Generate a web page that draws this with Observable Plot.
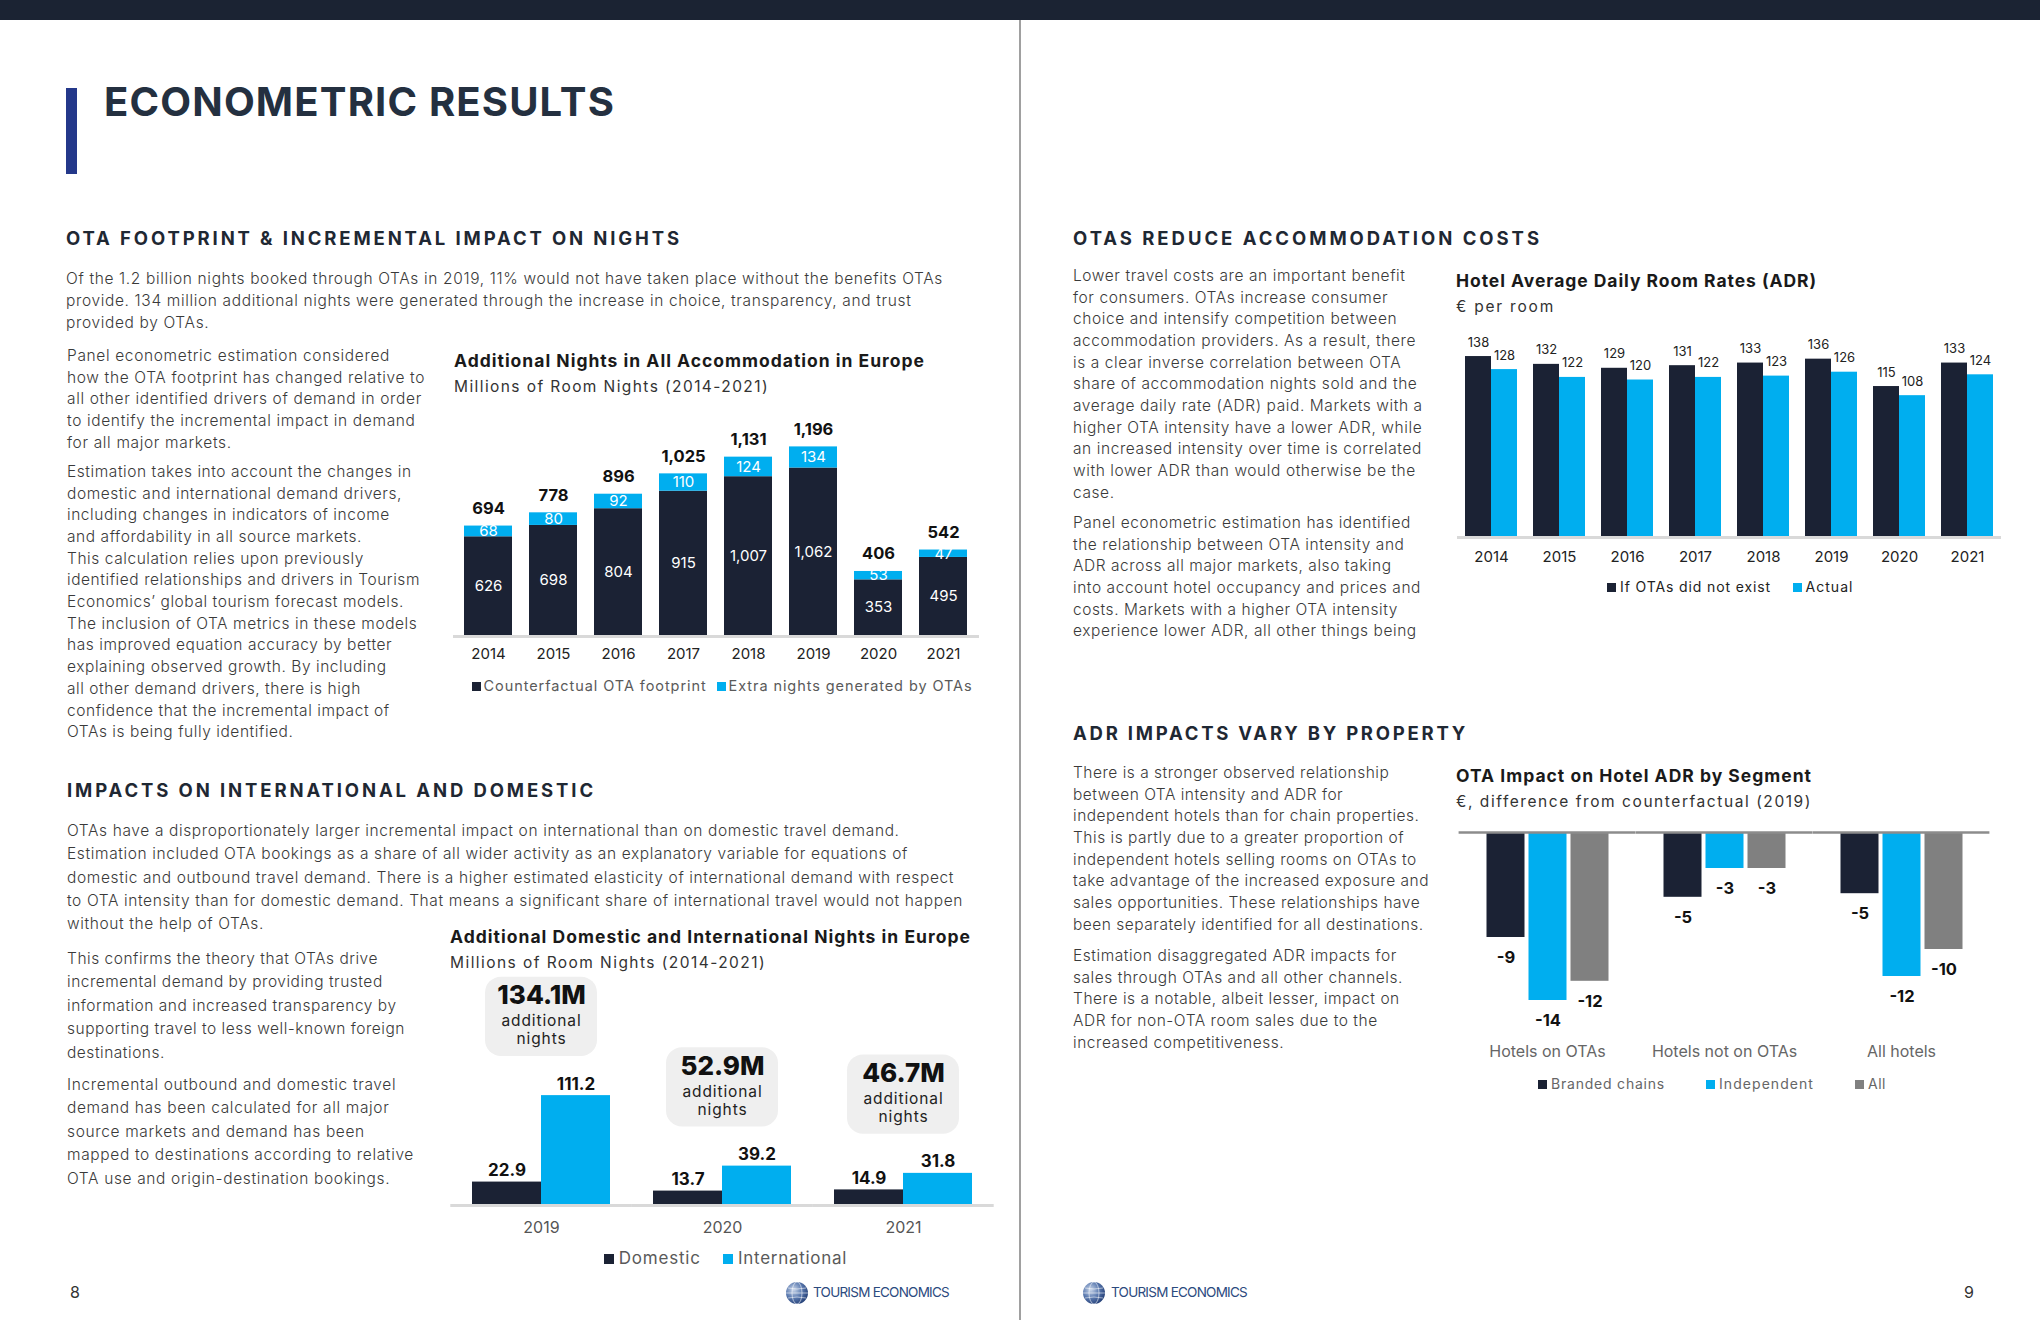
<!DOCTYPE html>
<html><head><meta charset="utf-8">
<script src="https://cdn.jsdelivr.net/npm/d3@7"></script>
<script src="https://cdn.jsdelivr.net/npm/@observablehq/plot@0.6"></script>
<style>
html,body{margin:0;padding:0;background:#fff;}
body{width:2040px;height:1320px;position:relative;overflow:hidden;font-family:Inter,"Open Sans",sans-serif;color:#333;}
.abs{position:absolute;white-space:nowrap;}
.fit{display:inline-block;}
.p{position:absolute;font-weight:300;font-size:15.5px;color:#3a3a3a;}
.p div{white-space:nowrap;}
.h{position:absolute;white-space:nowrap;font-weight:700;font-size:18.5px;line-height:18.5px;color:#1f2833;}
.ct{position:absolute;white-space:nowrap;font-weight:700;font-size:17.5px;line-height:17.5px;color:#1a1a1a;}
.cs{position:absolute;white-space:nowrap;font-weight:400;font-size:15.5px;line-height:15.5px;color:#333;}
.sq{position:absolute;width:9px;height:9px;}
.lg{position:absolute;white-space:nowrap;}
.chart{position:absolute;}
</style></head><body>
<div class="abs" style="left:0;top:0;width:2040px;height:20px;background:#1b2333"></div>
<div class="abs" style="left:1019px;top:20px;width:1.5px;height:1300px;background:#a0a0a0"></div>
<div class="abs" style="left:66px;top:88px;width:11px;height:86px;background:#24388a"></div>
<div class="abs fit" data-w="511" style="left:104px;top:82.4px;font-size:40px;line-height:40px;font-weight:700;color:#243040">ECONOMETRIC RESULTS</div>

<div class="h fit" data-w="616" style="left:66px;top:229px">OTA FOOTPRINT &amp; INCREMENTAL IMPACT ON NIGHTS</div>
<div class="h fit" data-w="529" style="left:67px;top:781px">IMPACTS ON INTERNATIONAL AND DOMESTIC</div>
<div class="h fit" data-w="469" style="left:1073px;top:229px">OTAS REDUCE ACCOMMODATION COSTS</div>
<div class="h fit" data-w="395" style="left:1073px;top:724px">ADR IMPACTS VARY BY PROPERTY</div>

<div class="p" data-ref="0" data-w="877" style="left:66px;top:267.6px;line-height:22px">
<div>Of the 1.2 billion nights booked through OTAs in 2019, 11% would not have taken place without the benefits OTAs</div>
<div>provide. 134 million additional nights were generated through the increase in choice, transparency, and trust</div>
<div>provided by OTAs.</div></div>

<div class="p" data-ref="0" data-w="323" style="left:67px;top:344.8px;line-height:21.7px">
<div>Panel econometric estimation considered</div>
<div>how the OTA footprint has changed relative to</div>
<div>all other identified drivers of demand in order</div>
<div>to identify the incremental impact in demand</div>
<div>for all major markets.</div></div>

<div class="p" data-ref="5" data-w="353" style="left:67px;top:460.8px;line-height:21.7px">
<div>Estimation takes into account the changes in</div>
<div>domestic and international demand drivers,</div>
<div>including changes in indicators of income</div>
<div>and affordability in all source markets.</div>
<div>This calculation relies upon previously</div>
<div>identified relationships and drivers in Tourism</div>
<div>Economics’ global tourism forecast models.</div>
<div>The inclusion of OTA metrics in these models</div>
<div>has improved equation accuracy by better</div>
<div>explaining observed growth. By including</div>
<div>all other demand drivers, there is high</div>
<div>confidence that the incremental impact of</div>
<div>OTAs is being fully identified.</div></div>

<div class="p" data-ref="3" data-w="896" style="left:67px;top:819px;line-height:23.3px">
<div>OTAs have a disproportionately larger incremental impact on international than on domestic travel demand.</div>
<div>Estimation included OTA bookings as a share of all wider activity as an explanatory variable for equations of</div>
<div>domestic and outbound travel demand. There is a higher estimated elasticity of international demand with respect</div>
<div>to OTA intensity than for domestic demand. That means a significant share of international travel would not happen</div>
<div>without the help of OTAs.</div></div>

<div class="p" data-ref="3" data-w="338" style="left:67px;top:946.9px;line-height:23.4px">
<div>This confirms the theory that OTAs drive</div>
<div>incremental demand by providing trusted</div>
<div>information and increased transparency by</div>
<div>supporting travel to less well-known foreign</div>
<div>destinations.</div></div>

<div class="p" data-ref="3" data-w="347" style="left:67px;top:1072.9px;line-height:23.4px">
<div>Incremental outbound and domestic travel</div>
<div>demand has been calculated for all major</div>
<div>source markets and demand has been</div>
<div>mapped to destinations according to relative</div>
<div>OTA use and origin-destination bookings.</div></div>

<div class="p" data-ref="3" data-w="343" style="left:1073px;top:264.8px;line-height:21.7px">
<div>Lower travel costs are an important benefit</div>
<div>for consumers. OTAs increase consumer</div>
<div>choice and intensify competition between</div>
<div>accommodation providers. As a result, there</div>
<div>is a clear inverse correlation between OTA</div>
<div>share of accommodation nights sold and the</div>
<div>average daily rate (ADR) paid. Markets with a</div>
<div>higher OTA intensity have a lower ADR, while</div>
<div>an increased intensity over time is correlated</div>
<div>with lower ADR than would otherwise be the</div>
<div>case.</div></div>

<div class="p" data-ref="3" data-w="348" style="left:1073px;top:511.8px;line-height:21.7px">
<div>Panel econometric estimation has identified</div>
<div>the relationship between OTA intensity and</div>
<div>ADR across all major markets, also taking</div>
<div>into account hotel occupancy and prices and</div>
<div>costs. Markets with a higher OTA intensity</div>
<div>experience lower ADR, all other things being</div></div>

<div class="p" data-ref="5" data-w="356" style="left:1073px;top:761.8px;line-height:21.7px">
<div>There is a stronger observed relationship</div>
<div>between OTA intensity and ADR for</div>
<div>independent hotels than for chain properties.</div>
<div>This is partly due to a greater proportion of</div>
<div>independent hotels selling rooms on OTAs to</div>
<div>take advantage of the increased exposure and</div>
<div>sales opportunities. These relationships have</div>
<div>been separately identified for all destinations.</div></div>

<div class="p" data-ref="1" data-w="330" style="left:1073px;top:944.8px;line-height:21.7px">
<div>Estimation disaggregated ADR impacts for</div>
<div>sales through OTAs and all other channels.</div>
<div>There is a notable, albeit lesser, impact on</div>
<div>ADR for non-OTA room sales due to the</div>
<div>increased competitiveness.</div></div>

<!-- chart titles -->
<div class="ct fit" data-w="471" style="left:454px;top:351.9px">Additional Nights in All Accommodation in Europe</div>
<div class="cs fit" data-w="315" style="left:454px;top:378.6px">Millions of Room Nights (2014-2021)</div>
<div class="ct fit" data-w="521" style="left:450px;top:927.9px">Additional Domestic and International Nights in Europe</div>
<div class="cs fit" data-w="316" style="left:450px;top:954.6px">Millions of Room Nights (2014-2021)</div>
<div class="ct fit" data-w="361" style="left:1456px;top:271.9px">Hotel Average Daily Room Rates (ADR)</div>
<div class="cs fit" data-w="99" style="left:1456px;top:298.6px">€ per room</div>
<div class="ct fit" data-w="356" style="left:1456px;top:766.9px">OTA Impact on Hotel ADR by Segment</div>
<div class="cs fit" data-w="356" style="left:1456px;top:793.6px">€, difference from counterfactual (2019)</div>

<div id="c1" class="chart" style="left:440px;top:400px"></div>
<div id="c2" class="chart" style="left:440px;top:960px"></div>
<div id="c3" class="chart" style="left:1440px;top:320px"></div>
<div id="c4" class="chart" style="left:1440px;top:820px"></div>

<!-- legends -->
<div class="sq" style="left:472px;top:681.5px;background:#1b2234"></div>
<div class="lg fit" data-w="223" style="left:483.6px;top:678.5px;font-size:14.5px;line-height:14.5px;color:#5a5a5a">Counterfactual OTA footprint</div>
<div class="sq" style="left:717px;top:681.5px;background:#00aeef"></div>
<div class="lg fit" data-w="244" style="left:728.6px;top:678.5px;font-size:14.5px;line-height:14.5px;color:#5a5a5a">Extra nights generated by OTAs</div>

<div class="sq" style="left:604px;top:1254px;width:10px;height:10px;background:#1b2234"></div>
<div class="lg fit" data-w="82" style="left:618.7px;top:1250px;font-size:17px;line-height:17px;color:#5a5a5a">Domestic</div>
<div class="sq" style="left:723px;top:1254px;width:10px;height:10px;background:#00aeef"></div>
<div class="lg fit" data-w="109" style="left:738px;top:1250px;font-size:17px;line-height:17px;color:#5a5a5a">International</div>

<div class="sq" style="left:1607px;top:582.5px;background:#1b2234"></div>
<div class="lg fit" data-w="151" style="left:1620px;top:580px;font-size:14px;line-height:14px;color:#222">If OTAs did not exist</div>
<div class="sq" style="left:1792.5px;top:582.5px;background:#00aeef"></div>
<div class="lg fit" data-w="48" style="left:1805.5px;top:580px;font-size:14px;line-height:14px;color:#222">Actual</div>

<div class="sq" style="left:1538px;top:1079.5px;background:#1b2234"></div>
<div class="lg fit" data-w="114" style="left:1551px;top:1077px;font-size:14px;line-height:14px;color:#666">Branded chains</div>
<div class="sq" style="left:1706px;top:1079.5px;background:#00aeef"></div>
<div class="lg fit" data-w="95" style="left:1719px;top:1077px;font-size:14px;line-height:14px;color:#666">Independent</div>
<div class="sq" style="left:1855px;top:1079.5px;background:#808080"></div>
<div class="lg fit" data-w="18" style="left:1868px;top:1077px;font-size:14px;line-height:14px;color:#666">All</div>

<!-- footers -->
<svg class="abs" style="left:785px;top:1281px" width="24" height="24" viewBox="0 0 24 24">
<defs><radialGradient id="g1" cx="0.35" cy="0.35" r="0.75"><stop offset="0" stop-color="#c9d6ea"/><stop offset="0.5" stop-color="#5c7bb0"/><stop offset="1" stop-color="#1d3870"/></radialGradient></defs>
<circle cx="12" cy="12" r="11" fill="url(#g1)"/>
<g fill="none" stroke="#fff" stroke-opacity="0.7" stroke-width="0.8"><ellipse cx="12" cy="12" rx="5" ry="11"/><line x1="1" y1="12" x2="23" y2="12"/><path d="M3 7 Q12 9 21 7 M3 17 Q12 15 21 17"/></g></svg>
<div class="lg fit" data-w="136" style="left:813px;top:1286px;font-size:13.5px;line-height:13.5px;color:#2c4a7e">TOURISM ECONOMICS</div>
<svg class="abs" style="left:1082px;top:1281px" width="24" height="24" viewBox="0 0 24 24">
<circle cx="12" cy="12" r="11" fill="url(#g1)"/>
<g fill="none" stroke="#fff" stroke-opacity="0.7" stroke-width="0.8"><ellipse cx="12" cy="12" rx="5" ry="11"/><line x1="1" y1="12" x2="23" y2="12"/><path d="M3 7 Q12 9 21 7 M3 17 Q12 15 21 17"/></g></svg>
<div class="lg fit" data-w="136" style="left:1111px;top:1286px;font-size:13.5px;line-height:13.5px;color:#2c4a7e">TOURISM ECONOMICS</div>
<div class="lg" style="left:70px;top:1284px;font-size:16px;line-height:16px;color:#333">8</div>
<div class="lg" style="left:1964px;top:1284px;font-size:16px;line-height:16px;color:#333">9</div>

<script>
// ---------- DATA ----------
const nightsYears = ["2014","2015","2016","2017","2018","2019","2020","2021"];
const counterfactualNights = [626, 698, 804, 915, 1007, 1062, 353, 495];
const extraNights = [68, 80, 92, 110, 124, 134, 53, 47];
const nightsSeries = ["Counterfactual OTA footprint", "Extra nights generated by OTAs"];

const intlYears = ["2019","2020","2021"];
const domesticNights = [22.9, 13.7, 14.9];
const internationalNights = [111.2, 39.2, 31.8];
const intlSeries = ["Domestic", "International"];

const adrYears = ["2014","2015","2016","2017","2018","2019","2020","2021"];
const adrWithoutOTAs = [138, 132, 129, 131, 133, 136, 115, 133];
const adrActual = [128, 122, 120, 122, 123, 126, 108, 124];
const adrSeries = ["If OTAs did not exist", "Actual"];

const segments = ["Hotels on OTAs", "Hotels not on OTAs", "All hotels"];
const brandedImpact = [-8.75, -5.4, -5.1];
const independentImpact = [-14, -3, -12];
const allImpact = [-12.4, -3, -9.75];
const segmentSeries = ["Branded chains", "Independent", "All"];

// ---------- STYLE ----------
const FONT = "Inter, 'Open Sans', sans-serif";
const NAVY = "#1b2234", CYAN = "#00aeef", GREY = "#808080";

// ---------- CHART 1 ----------
const nightsData = nightsYears.flatMap((y, i) => [
  {year: y, series: nightsSeries[0], value: counterfactualNights[i]},
  {year: y, series: nightsSeries[1], value: extraNights[i]}
]);
const nightsTotals = nightsYears.map((y, i) => ({year: y, total: counterfactualNights[i] + extraNights[i]}));
const c1 = Plot.plot({
  width: 560, height: 275, marginLeft: 13, marginRight: 21, marginTop: 30, marginBottom: 40,
  style: {fontFamily: FONT, fontSize: "15px", color: "#222", background: "transparent", overflow: "visible"},
  x: {domain: nightsYears, paddingInner: 0.254, paddingOuter: 0.127, label: null, tickSize: 0, tickPadding: 13},
  y: {domain: [0, 1300], axis: null},
  color: {domain: nightsSeries, range: [NAVY, CYAN]},
  marks: [
    Plot.ruleY([0], {stroke: "#d9d9d9", strokeWidth: 3, dy: 1}),
    Plot.barY(nightsData, {x: "year", y: "value", fill: "series"}),
    Plot.text(nightsData, Plot.stackY({x: "year", y: "value", text: d => d3.format(",")(d.value), fill: "white", fontSize: 15})),
    Plot.text(nightsTotals, {x: "year", y: "total", text: d => d3.format(",")(d.total), dy: -12, lineAnchor: "bottom", fontWeight: 700, fontSize: 16.5, fill: "#111"})
  ]
});
document.getElementById("c1").append(c1);

// ---------- CHART 2 ----------
const intlData = intlYears.flatMap((y, i) => [
  {year: y, series: intlSeries[0], value: domesticNights[i]},
  {year: y, series: intlSeries[1], value: internationalNights[i]}
]);
const intlTotals = intlYears.map((y, i) => ({
  year: y,
  total: domesticNights[i] + internationalNights[i],
  peak: Math.max(domesticNights[i], internationalNights[i])
}));
const c2 = Plot.plot({
  width: 580, height: 290, marginLeft: 10, marginRight: 26, marginTop: 9, marginBottom: 46,
  style: {fontFamily: FONT, fontSize: "16px", color: "#555", background: "transparent", overflow: "visible"},
  fx: {domain: intlYears, paddingInner: 0.24, paddingOuter: 0.12, label: null, tickSize: 0, tickPadding: 17, axis: "bottom"},
  x: {domain: intlSeries, axis: null, padding: 0},
  y: {domain: [0, 240], axis: null},
  color: {domain: intlSeries, range: [NAVY, CYAN]},
  marks: [
    Plot.ruleY([0], {stroke: "#d9d9d9", strokeWidth: 3, dy: 1, insetLeft: -21.7, insetRight: -21.7}),
    Plot.rect(intlTotals, {fx: "year", y1: d => d.peak + 40, y2: d => d.peak + 121, fill: "#efefef", rx: 16, insetLeft: 13, insetRight: 13}),
    Plot.text(intlTotals, {fx: "year", y: d => d.peak + 121, text: d => d3.format(".1f")(d.total) + "M", dy: 27, lineAnchor: "bottom", fontWeight: 800, fontSize: 26, fill: "#111"}),
    Plot.text(intlTotals, {fx: "year", y: d => d.peak + 121, text: () => "additional", dy: 49, lineAnchor: "bottom", fontSize: 15.5, fill: "#222"}),
    Plot.text(intlTotals, {fx: "year", y: d => d.peak + 121, text: () => "nights", dy: 67, lineAnchor: "bottom", fontSize: 15.5, fill: "#222"}),
    Plot.barY(intlData, {fx: "year", x: "series", y: "value", fill: "series"}),
    Plot.text(intlData, {fx: "year", x: "series", y: "value", text: d => d.value.toFixed(1), dy: -6, lineAnchor: "bottom", fontWeight: 700, fontSize: 17, fill: "#111"})
  ]
});
c2.querySelectorAll("text").forEach(t => {
  if (t.textContent === "additional" || t.textContent === "nights") t.setAttribute("letter-spacing", "0.9");
});
document.getElementById("c2").append(c2);

// ---------- CHART 3 ----------
const adrData = adrYears.flatMap((y, i) => [
  {year: y, series: adrSeries[0], value: adrWithoutOTAs[i]},
  {year: y, series: adrSeries[1], value: adrActual[i]}
]);
const c3 = Plot.plot({
  width: 600, height: 260, marginLeft: 17, marginRight: 39, marginTop: 20.4, marginBottom: 44,
  style: {fontFamily: FONT, fontSize: "15px", color: "#222", background: "transparent", overflow: "visible"},
  fx: {domain: adrYears, paddingInner: 0.235, paddingOuter: 0.1175, label: null, tickSize: 0, tickPadding: 14.7, axis: "bottom"},
  x: {domain: adrSeries, axis: null, padding: 0},
  y: {domain: [0, 150], axis: null},
  color: {domain: adrSeries, range: [NAVY, CYAN]},
  marks: [
    Plot.ruleY([0], {stroke: "#d9d9d9", strokeWidth: 3, dy: 1, insetLeft: -8, insetRight: -8}),
    Plot.barY(adrData, {fx: "year", x: "series", y: "value", fill: "series"}),
    Plot.text(adrData, {fx: "year", x: "series", y: "value", text: d => String(d.value), dy: -10, lineAnchor: "bottom", fontSize: 13, fill: "#222"})
  ]
});
document.getElementById("c3").append(c3);

// ---------- CHART 4 ----------
const segData = segments.flatMap((s, i) => [
  {segment: s, series: segmentSeries[0], value: brandedImpact[i]},
  {segment: s, series: segmentSeries[1], value: independentImpact[i]},
  {segment: s, series: segmentSeries[2], value: allImpact[i]}
]);
const c4 = Plot.plot({
  width: 600, height: 250, marginLeft: 18.5, marginRight: 50.5, marginTop: 12, marginBottom: 46,
  style: {fontFamily: FONT, fontSize: "16px", color: "#666", background: "transparent", overflow: "visible"},
  fx: {domain: segments, paddingInner: 0.31, paddingOuter: 0.155, label: null, tickSize: 0, tickPadding: 21.4, axis: "bottom"},
  x: {domain: segmentSeries, axis: null, paddingInner: 0.1, paddingOuter: 0},
  y: {domain: [-16, 0], axis: null},
  color: {domain: segmentSeries, range: [NAVY, CYAN, GREY]},
  marks: [
    Plot.barY(segData, {fx: "segment", x: "series", y: "value", fill: "series"}),
    Plot.ruleY([0], {stroke: "#8c8c8c", strokeWidth: 2.5, insetLeft: -27.4, insetRight: -27.4}),
    Plot.text(segData, {fx: "segment", x: "series", y: "value", text: d => String(Math.round(d.value)), dy: 20, lineAnchor: "middle", fontWeight: 700, fontSize: 16.5, fill: "#111"})
  ]
});
document.getElementById("c4").append(c4);

// ---------- TEXT FITTING ----------
document.querySelectorAll(".fit").forEach(el => {
  const W = +el.dataset.w;
  el.style.letterSpacing = "0px";
  const w = el.getBoundingClientRect().width;
  const n = [...el.textContent].length;
  const ls = Math.max(-2, Math.min(4, (W - w) / n));
  el.style.letterSpacing = ls + "px";
});
document.querySelectorAll(".p").forEach(p => {
  const lines = p.querySelectorAll("div");
  const ref = lines[+p.dataset.ref];
  const W = +p.dataset.w;
  ref.style.display = "inline-block";
  const w = ref.getBoundingClientRect().width;
  ref.style.display = "";
  const n = [...ref.textContent].length;
  const ls = Math.max(-1.5, Math.min(2, (W - w) / n));
  p.style.letterSpacing = ls + "px";
});
</script>
</body></html>
